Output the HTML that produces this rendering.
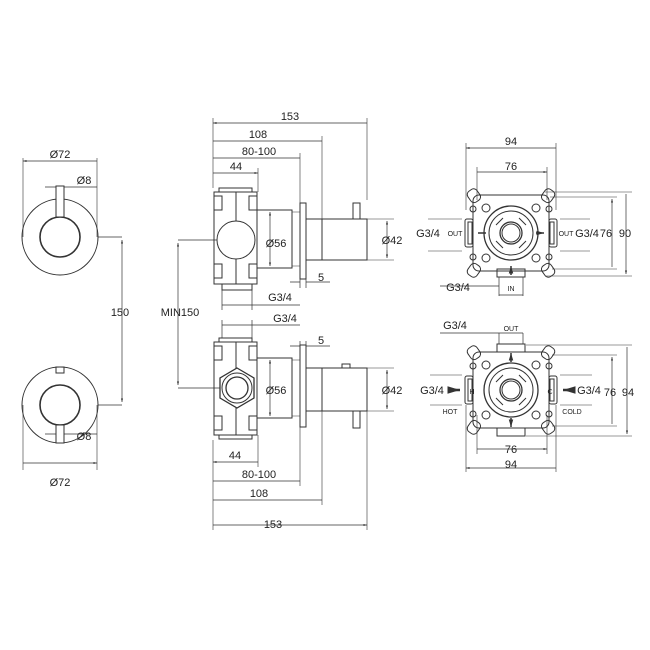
<!DOCTYPE html>
<html><head><meta charset="utf-8"><style>
html,body{margin:0;padding:0;background:#fff;}
svg{display:block;}
text{font-family:"Liberation Sans",sans-serif;font-size:11px;fill:#222;}
.s{font-size:7px;}
</style></head><body>
<svg width="650" height="650" viewBox="0 0 650 650" xmlns="http://www.w3.org/2000/svg">
<defs>
<marker id="a" viewBox="0 0 10 10" refX="10" refY="5" markerWidth="5" markerHeight="5" orient="auto-start-reverse"><path d="M0,2 L10,5 L0,8z" fill="#333"/></marker>
<g id="valve" fill="none" stroke="#333" stroke-width="1">
  <rect x="-38" y="-38" width="76" height="76" rx="6"/>
  <rect x="-43" y="-44" width="11" height="13" rx="4" transform="rotate(-35 -37 -38)"/>
  <rect x="32" y="-44" width="11" height="13" rx="4" transform="rotate(35 37 -38)"/>
  <rect x="-43" y="31" width="11" height="13" rx="4" transform="rotate(35 -37 38)"/>
  <rect x="32" y="31" width="11" height="13" rx="4" transform="rotate(-35 37 38)"/>
  <circle cx="-38" cy="-24" r="3"/><circle cx="38" cy="-24" r="3"/>
  <circle cx="-38" cy="24" r="3"/><circle cx="38" cy="24" r="3"/>
  <circle cx="-25" cy="-25" r="4"/><circle cx="25" cy="-25" r="4"/>
  <circle cx="-25" cy="25" r="4"/><circle cx="25" cy="25" r="4"/>
  <circle r="27" stroke-width="1.3"/><circle r="22"/><circle r="11" stroke-width="1.3"/><circle r="9"/>
  <path d="M-8,-15 L-15,-8 M8,-15 L15,-8 M-8,15 L-15,8 M8,15 L15,8"/>
  <rect x="-46" y="-14" width="8" height="28" rx="2"/><rect x="-43" y="-11" width="4" height="22"/>
  <rect x="38" y="-14" width="8" height="28" rx="2"/><rect x="39" y="-11" width="4" height="22"/>
</g>
</defs>
<g fill="none" stroke="#333" stroke-width="1">
<circle cx="60" cy="237" r="38"/><circle cx="60" cy="237" r="20" stroke-width="1.6"/>
<rect x="56" y="186" width="8" height="31" fill="#fff"/>
<circle cx="60" cy="405" r="38"/><circle cx="60" cy="405" r="20" stroke-width="1.6"/>
<rect x="56" y="425" width="8" height="18" fill="#fff"/><rect x="56" y="367" width="8" height="6"/>
<path d="M23,237 V158 M97,237 V158 M23,405 V470 M97,405 V470" stroke-width="0.6"/>
<path d="M23,161 H97 M23,463 H97" stroke-width="0.7" marker-start="url(#a)" marker-end="url(#a)"/>
<path d="M45,187 H56 M64,187 H97 M45,434 H56 M64,434 H97" stroke-width="0.7"/>
<path d="M98,237 H122 M98,405 H122" stroke-width="0.7"/>
<path d="M122,240 V402" stroke-width="0.7" marker-start="url(#a)" marker-end="url(#a)"/>
<path d="M178,240 H236 M178,388 H237" stroke-width="0.7"/>
<path d="M178,243 V385" stroke-width="0.7" marker-start="url(#a)" marker-end="url(#a)"/>

<rect x="214" y="192" width="43" height="92"/>
<rect x="219" y="188" width="33" height="4"/><rect x="222" y="284" width="30" height="6"/>
<rect x="214" y="196" width="8" height="14"/><rect x="249" y="196" width="8" height="14"/>
<rect x="214" y="264" width="8" height="14"/><rect x="249" y="264" width="8" height="14"/>
<path d="M236,192 V284"/>
<circle cx="236" cy="240" r="19" fill="#fff"/>
<rect x="257" y="210" width="35" height="58"/>
<rect x="292" y="212" width="8" height="54" stroke-width="0.5"/>
<rect x="300" y="203" width="6" height="76"/>
<rect x="306" y="219" width="61" height="41"/><path d="M322,219 V260"/>
<rect x="353" y="203" width="7" height="16"/>
<path d="M213,188 V118 M367,200 V118 M322,219 V136 M300,203 V153 M258,192 V168" stroke-width="0.6"/>
<path d="M213,123 H367 M213,141 H322 M213,158 H300 M213,173 H258" stroke-width="0.7" marker-start="url(#a)" marker-end="url(#a)"/>
<path d="M270,212 V266" stroke-width="0.7" marker-start="url(#a)" marker-end="url(#a)"/>
<path d="M367,219 H394 M367,260 H394" stroke-width="0.6"/>
<path d="M387,221 V258" stroke-width="0.7" marker-start="url(#a)" marker-end="url(#a)"/>
<path d="M290,282 H300 M306,282 H330 M300,279 V288 M306,279 V288" stroke-width="0.7"/>
<path d="M222,290 V310 M252,290 V310 M222,305 H300" stroke-width="0.7"/>

<rect x="214" y="342" width="43" height="93"/>
<rect x="219" y="338" width="33" height="4"/><rect x="219" y="435" width="33" height="4"/>
<rect x="214" y="346" width="8" height="14"/><rect x="249" y="346" width="8" height="14"/>
<rect x="214" y="416" width="8" height="14"/><rect x="249" y="416" width="8" height="14"/>
<path d="M236,342 V435"/>
<path d="M237,368 L254,378 L254,398 L237,408 L220,398 L220,378Z" fill="#fff" stroke-width="1.3"/>
<circle cx="237" cy="388" r="15"/><circle cx="237" cy="388" r="11" stroke-width="1.3"/>
<rect x="257" y="358" width="35" height="60"/>
<rect x="292" y="360" width="8" height="56" stroke-width="0.5"/>
<rect x="300" y="345" width="6" height="82"/>
<rect x="306" y="368" width="61" height="43"/><path d="M322,368 V411"/>
<rect x="353" y="411" width="7" height="17"/><rect x="342" y="364" width="8" height="4"/>
<path d="M213,440 V530 M258,435 V467 M300,427 V486 M322,411 V505 M367,411 V530" stroke-width="0.6"/>
<path d="M213,462 H258 M213,481 H300 M213,500 H322 M213,525 H367" stroke-width="0.7" marker-start="url(#a)" marker-end="url(#a)"/>
<path d="M270,360 V416" stroke-width="0.7" marker-start="url(#a)" marker-end="url(#a)"/>
<path d="M367,368 H394 M367,411 H394" stroke-width="0.6"/>
<path d="M387,370 V409" stroke-width="0.7" marker-start="url(#a)" marker-end="url(#a)"/>
<path d="M290,346 H300 M306,346 H330 M300,341 V350 M306,341 V350" stroke-width="0.7"/>
<path d="M222,338 V320 M252,338 V320 M222,325 H300" stroke-width="0.7"/>

<use href="#valve" x="511" y="233"/>
<rect x="497" y="269" width="28" height="8"/><path d="M499,277 V296 M523,277 V296 M499,295 H523" stroke-width="0.7"/>
<path d="M440,286 H499" stroke-width="0.7"/>
<path d="M511,275 V266" stroke-width="1.5" marker-end="url(#a)"/>
<path d="M486,233 H478 M536,233 H544" stroke-width="1.5" marker-end="url(#a)"/>
<path d="M466,210 V143 M556,210 V143 M477,200 V167 M547,200 V167" stroke-width="0.6"/>
<path d="M466,148 H556 M477,172 H547" stroke-width="0.7" marker-start="url(#a)" marker-end="url(#a)"/>
<path d="M550,197 H617 M552,269 H617 M545,192 H632 M545,276 H632" stroke-width="0.6"/>
<path d="M612,199 V267 M626,194 V274" stroke-width="0.7" marker-start="url(#a)" marker-end="url(#a)"/>
<path d="M428,219 H462 M428,251 H462 M560,219 H590 M560,251 H590" stroke-width="0.6"/>

<use href="#valve" x="511" y="390"/>
<rect x="497" y="344" width="28" height="8"/><rect x="497" y="428" width="28" height="8"/>
<path d="M499,344 V333 M523,344 V333 M440,333 H523" stroke-width="0.7"/>
<path d="M511,362 V353" stroke-width="1.5" marker-end="url(#a)"/>
<path d="M511,418 V427" stroke-width="1.5" marker-end="url(#a)"/>
<path d="M448,390 H460" stroke-width="2.5" marker-end="url(#a)"/>
<path d="M575,390 H563" stroke-width="2.5" marker-end="url(#a)"/>
<path d="M466,405 V472 M556,405 V472 M477,415 V454 M547,415 V454" stroke-width="0.6"/>
<path d="M466,468 H556 M477,449 H547" stroke-width="0.7" marker-start="url(#a)" marker-end="url(#a)"/>
<path d="M552,355 H617 M552,426 H617 M526,345 H632 M526,436 H632" stroke-width="0.6"/>
<path d="M612,357 V424 M627,347 V434" stroke-width="0.7" marker-start="url(#a)" marker-end="url(#a)"/>
<path d="M430,375 H462 M430,405 H462 M560,375 H592 M560,405 H592" stroke-width="0.6"/>
</g>

<g text-anchor="middle">
<text x="60" y="158">Ø72</text>
<text x="84" y="184">Ø8</text>
<text x="84" y="440">Ø8</text>
<text x="60" y="486">Ø72</text>
<text x="120" y="316">150</text>
<text x="180" y="316">MIN150</text>
<text x="290" y="120">153</text>
<text x="258" y="138">108</text>
<text x="259" y="155">80-100</text>
<text x="236" y="170">44</text>
<text x="276" y="247">Ø56</text>
<text x="392" y="244">Ø42</text>
<text x="321" y="281">5</text>
<text x="280" y="301">G3/4</text>
<text x="285" y="322">G3/4</text>
<text x="321" y="344">5</text>
<text x="276" y="394">Ø56</text>
<text x="392" y="394">Ø42</text>
<text x="235" y="459">44</text>
<text x="259" y="478">80-100</text>
<text x="259" y="497">108</text>
<text x="273" y="528">153</text>

<text x="511" y="145">94</text>
<text x="511" y="170">76</text>
<text x="428" y="237">G3/4</text>
<text x="455" y="236" class="s">OUT</text>
<text x="566" y="236" class="s">OUT</text>
<text x="587" y="237">G3/4</text>
<text x="606" y="237">76</text>
<text x="625" y="237">90</text>
<text x="458" y="291">G3/4</text>
<text x="511" y="291" class="s">IN</text>

<text x="455" y="329">G3/4</text>
<text x="511" y="331" class="s">OUT</text>
<text x="432" y="394">G3/4</text>
<text x="589" y="394">G3/4</text>
<text x="610" y="396">76</text>
<text x="628" y="396">94</text>
<text x="450" y="414" class="s">HOT</text>
<text x="572" y="414" class="s">COLD</text>
<text x="472" y="394" class="s">H</text>
<text x="550" y="394" class="s">C</text>
<text x="511" y="453">76</text>
<text x="511" y="468">94</text>
</g>
</svg>
</body></html>
